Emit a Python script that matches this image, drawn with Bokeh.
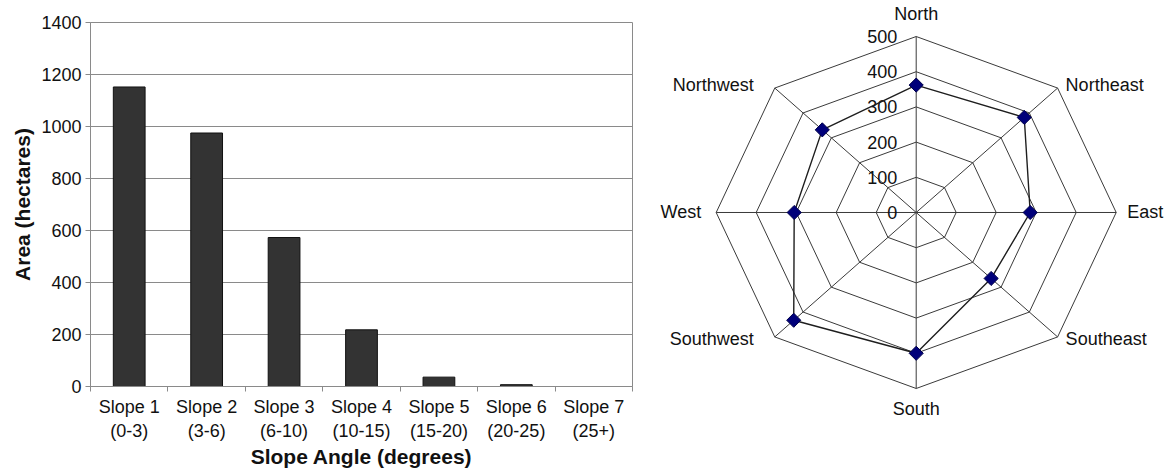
import numpy as np
from bokeh.plotting import figure
from bokeh.models import Range1d, FixedTicker
from bokeh.layouts import row
from bokeh.embed import file_html
from bokeh.resources import INLINE
from bokeh.core.properties import value

# ---------------- data ----------------
slope_classes = ["Slope 1", "Slope 2", "Slope 3", "Slope 4", "Slope 5", "Slope 6", "Slope 7"]
slope_ranges = ["(0-3)", "(3-6)", "(6-10)", "(10-15)", "(15-20)", "(20-25)", "(25+)"]
area_hectares = [1152, 975, 573, 218, 36, 7, 0]
area_ticks = [0, 200, 400, 600, 800, 1000, 1200, 1400]

directions = ["North", "Northeast", "East", "Southeast", "South", "Southwest", "West", "Northwest"]
aspect_area = [362, 382, 285, 265, 400, 433, 305, 332]
ring_levels = [0, 100, 200, 300, 400, 500]

# ---------------- style ----------------
FONT = "Liberation Sans"
TXT = "#111111"
GRAY = "#8a8a8a"
DARK = "#3a3a3a"

# ---------------- bar chart ----------------
n = len(slope_classes)
xc = [i + 0.5 for i in range(n)]
bounds = list(range(n + 1))

p = figure(width=648, height=470, x_range=Range1d(0, n), y_range=Range1d(0, area_ticks[-1]),
           output_backend="svg", toolbar_location=None,
           min_border_left=90, min_border_right=16, min_border_top=22, min_border_bottom=84)
p.frame_align = False
p.vbar(x=xc, top=area_hectares, width=0.41, fill_color="#333333", line_color="#111111", line_width=1)

p.xgrid.visible = False
p.ygrid.ticker = FixedTicker(ticks=area_ticks)
p.ygrid.grid_line_color = GRAY
p.ygrid.grid_line_width = 1
p.outline_line_color = GRAY
p.outline_line_width = 1

p.yaxis.ticker = FixedTicker(ticks=area_ticks)
p.xaxis.ticker = FixedTicker(ticks=xc, minor_ticks=bounds)
p.xaxis.major_label_overrides = {x: f"{a}\n{b}" for x, a, b in zip(xc, slope_classes, slope_ranges)}

for ax in (p.xaxis[0], p.yaxis[0]):
    ax.axis_line_color = GRAY
    ax.axis_line_width = 1
    ax.major_label_text_font = FONT
    ax.major_label_text_font_size = "18px"
    ax.major_label_text_color = TXT
    ax.axis_label_text_font = FONT
    ax.axis_label_text_font_size = "21px"
    ax.axis_label_text_font_style = "bold"
    ax.axis_label_text_color = TXT

p.xaxis.major_tick_out = 0
p.xaxis.major_tick_in = 0
p.xaxis.minor_tick_out = 5
p.xaxis.minor_tick_in = 0
p.xaxis.minor_tick_line_color = GRAY
p.xaxis.major_label_standoff = 5
p.xaxis.major_label_text_line_height = 1.22
p.xaxis.axis_label = "Slope Angle (degrees)"
p.xaxis.axis_label_standoff = 1

p.yaxis.major_tick_out = 5
p.yaxis.major_tick_in = 0
p.yaxis.major_tick_line_color = GRAY
p.yaxis.minor_tick_line_color = None
p.yaxis.major_label_standoff = 4
p.yaxis.axis_label = "Area (hectares)"
p.yaxis.axis_label_standoff = 4

# ---------------- radar chart ----------------
r = figure(width=517, height=470, x_range=Range1d(-669.25, 623.25), y_range=Range1d(-733, 602.3),
           output_backend="svg", toolbar_location=None, min_border=0,
           x_axis_type=None, y_axis_type=None)
r.frame_align = False
r.grid.visible = False
r.outline_line_color = None

k = len(directions)
theta = np.pi / 2 - np.arange(k) * 2 * np.pi / k
cx, sy = np.cos(theta), np.sin(theta)
rmax = ring_levels[-1]

ring_xs = [list(np.append(lv * cx, lv * cx[0])) for lv in ring_levels[1:]]
ring_ys = [list(np.append(lv * sy, lv * sy[0])) for lv in ring_levels[1:]]
r.multi_line(ring_xs, ring_ys, line_color=DARK, line_width=1)
r.multi_line([[0, rmax * c] for c in cx], [[0, rmax * s] for s in sy], line_color=DARK, line_width=1)

r.text(x=[0] * len(ring_levels), y=ring_levels, text=[str(v) for v in ring_levels],
       text_align="right", text_baseline="middle", x_offset=-19,
       text_font=value(FONT), text_font_size="18px", text_color=TXT)

vals = np.array(aspect_area, dtype=float)
px = vals * cx
py = vals * sy
r.line(list(np.append(px, px[0])), list(np.append(py, py[0])), line_color="#1e1e1e", line_width=1.4)
r.scatter(px, py, marker="square", angle=np.pi / 4, size=10, fill_color="#00007a",
          line_color="#00004a", line_width=1)

lab_align = ["center", "left", "left", "left", "center", "right", "right", "right"]
lab_dx = [0, 8, 11, 8, 0, -21, -15, -21]
lab_dy = [-23, -3, 0, 2, 21, 2, 0, -3]
r.text(x=list(rmax * cx), y=list(rmax * sy), text=directions,
       text_align=lab_align, text_baseline="middle", x_offset=lab_dx, y_offset=lab_dy,
       text_font=value(FONT), text_font_size="18px", text_color=TXT)

layout = row(p, r)
open("out.html", "w").write(file_html(layout, INLINE))
